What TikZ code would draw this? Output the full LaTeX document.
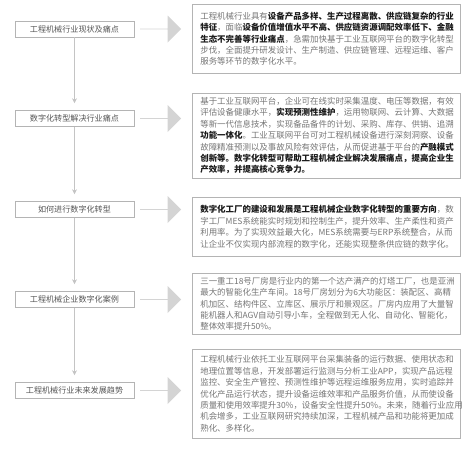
\documentclass[tikz,border=0pt]{standalone}
\usepackage{fontspec}
\setmainfont{Noto Sans CJK SC}
\usetikzlibrary{shapes.arrows,arrows.meta}

\definecolor{boxgray}{HTML}{B4B4B4}
\definecolor{linegray}{HTML}{C4C4C4}
\definecolor{arrowgray}{HTML}{D4D4D4}
\definecolor{stagetext}{HTML}{555555}
\definecolor{bodytext}{HTML}{757575}
\definecolor{darktext}{HTML}{1A1A1A}

\newcommand{\keyterm}[1]{{\bfseries\color{darktext}#1}}

\begin{document}
\begin{tikzpicture}[x=1pt, y=-1pt,
	stage/.style={draw=boxgray, line width=0.6pt, minimum width=119pt, minimum height=16pt, inner sep=0pt, text=stagetext, font=\fontsize{8.1}{10}\selectfont},
	detail/.style={draw=boxgray, line width=0.6pt, anchor=north west, minimum width=268pt, text width=252pt, inner xsep=8pt, inner ysep=0pt, align=left, text=bodytext, font=\fontsize{8.45}{11.4}\selectfont},
	push/.style={single arrow, fill=arrowgray, draw=none, minimum height=41pt, minimum width=27pt, single arrow head extend=7.5pt, inner sep=0pt},
	flow/.style={draw=linegray, line width=0.6pt, -{Stealth[length=5pt, width=5pt]}, shorten >=7pt}]

	\useasboundingbox (0,0) rectangle (474,448);

	% left column
	\node [stage] (status) at (74.5,29) {工程机械行业现状及痛点};
	\node [stage] (solve) at (74.5,118.5) {数字化转型解决行业痛点};
	\node [stage] (how) at (74.5,209.5) {如何进行数字化转型};
	\node [stage] (case) at (74.5,299.5) {工程机械企业数字化案例};
	\node [stage] (trend) at (74.5,390.5) {工程机械行业未来发展趋势};

	\draw [flow] (status) -- (solve);
	\draw [flow] (solve) -- (how);
	\draw [flow] (how) -- (case);
	\draw [flow] (case) -- (trend);

	% block arrows
	\node [push] (pstatus) at (160.5,29) {};
	\node [push] (psolve) at (160.5,118.5) {};
	\node [push] (phow) at (160.5,209.5) {};
	\node [push] (pcase) at (160.5,299.5) {};
	\node [push] (ptrend) at (160.5,390.5) {};

	% right column
	\node [detail, minimum height=69pt] (dstatus) at (192,4) {工程机械行业具有\keyterm{设备产品多样、生产过程离散、供应链复杂的行业}\\
\keyterm{特征}，面临\keyterm{设备价值增值水平不高、供应链资源调配效率低下、金融}\\
\keyterm{生态不完善等行业痛点}，急需加快基于工业互联网平台的数字化转型\\
步伐，全面提升研发设计、生产制造、供应链管理、远程运维、客户\\
服务等环节的数字化水平。};

	\node [detail, minimum height=85pt] (dsolve) at (192,93) {基于工业互联网平台，企业可在线实时采集温度、电压等数据，有效\\
评估设备健康水平，\keyterm{实现预测性维护}，运用物联网、云计算、大数据\\
等新一代信息技术，实现备品备件的计划、采购、库存、供销、追溯\\
\keyterm{功能一体化}。工业互联网平台可对工程机械设备进行深刻洞察、设备\\
故障精准预测以及事故风险有效评估，从而促进基于平台的\keyterm{产融模式}\\
\keyterm{创新等。数字化转型可帮助工程机械企业解决发展痛点，提高企业生}\\
\keyterm{产效率，并提高核心竞争力。}};

	\node [detail, minimum height=59pt] (dhow) at (192,197) {\keyterm{数字化工厂的建设和发展是工程机械企业数字化转型的重要方向}，数\\
字工厂MES系统能实时规划和控制生产，提升效率、生产柔性和资产\\
利用率。为了实现效益最大化，MES系统需要与ERP系统整合，从而\\
让企业不仅实现内部流程的数字化，还能实现整条供应链的数字化。};

	\node [detail, minimum height=61pt] (dcase) at (192,273) {三一重工18号厂房是行业内的第一个达产满产的灯塔工厂，也是亚洲\\
最大的智能化生产车间。18号厂房划分为6大功能区：装配区、高精\\
机加区、结构件区、立库区、展示厅和景观区。厂房内应用了大量智\\
能机器人和AGV自动引导小车，全程做到无人化、自动化、智能化，\\
整体效率提升50\%。};

	\node [detail, minimum height=89pt] (dtrend) at (192,349) {工程机械行业依托工业互联网平台采集装备的运行数据、使用状态和\\
地理位置等信息，开发部署运行监测与分析工业APP，实现产品远程\\
监控、安全生产管控、预测性维护等远程运维服务应用，实时追踪并\\
优化产品运行状态，提升设备运维效率和产品服务价值，从而使设备\\
质量和使用效率提升30\%，设备安全性提升50\%。未来，随着行业应用\\
机会增多，工业互联网研究持续加深，工程机械产品和功能将更加成\\
熟化、多样化。};

\end{tikzpicture}
\end{document}
